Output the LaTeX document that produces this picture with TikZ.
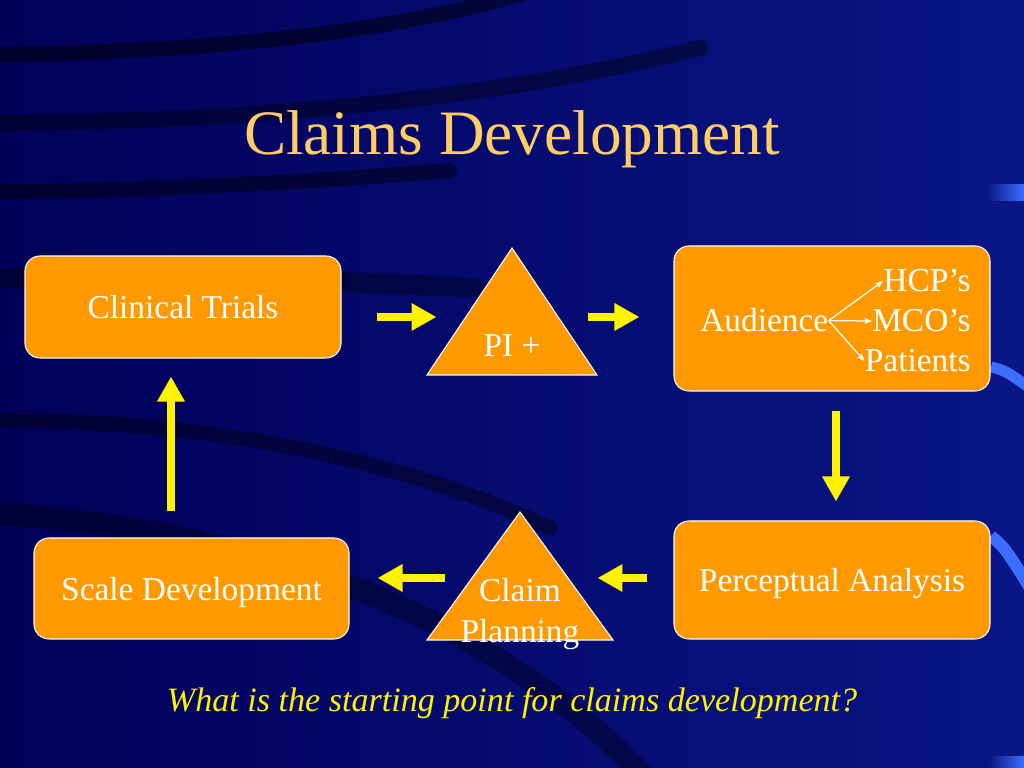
\documentclass[tikz,border=0pt]{standalone}
\usepackage{fontspec}
\setmainfont{Liberation Serif}
\usetikzlibrary{arrows.meta,positioning}

\definecolor{navyL}{RGB}{0,0,88}
\definecolor{navyR}{RGB}{10,22,135}
\definecolor{boxorange}{RGB}{255,153,0}
\definecolor{titlegold}{RGB}{255,204,102}
\definecolor{edgeblue}{RGB}{60,110,255}

\begin{document}
\begin{tikzpicture}[
  box/.style={draw=white, line width=0.6pt, fill=boxorange, rounded corners=0.3cm,
    minimum width=6.32cm, text=white, text depth=0pt, font=\fontsize{19}{23}\selectfont},
  tri/.style={draw=white, line width=0.6pt, fill=boxorange},
  txt/.style={text=white, inner sep=0pt, font=\fontsize{19}{23}\selectfont},
  flow/.style={draw=yellow, line width=0.17cm, -{Triangle[length=0.5cm,width=0.52cm]}},
  fan/.style={draw=white, line width=0.7pt, -{Stealth[length=0.16cm,width=0.12cm]}},
  stripe/.style={draw=black, line cap=round, opacity=0.5}
]
% background
\shade[left color=navyL, right color=navyR] (0,0) rectangle (20.48,15.36);
\useasboundingbox (0,0) rectangle (20.48,15.36);

% dark stripes
\begin{scope}
\clip (0,0) rectangle (20.48,15.36);
\draw[stripe, line width=0.3cm] (-0.5,14.26) .. controls (4,14.3) and (8,14.7) .. (10.8,15.6);
\draw[stripe, line width=0.32cm, opacity=0.4] (-0.5,12.9) .. controls (5,12.9) and (10,13.4) .. (14,14.4);
\draw[stripe, line width=0.3cm, opacity=0.45] (-0.5,11.52) .. controls (3,11.55) and (6,11.7) .. (9,11.95);
\draw[stripe, line width=0.4cm, opacity=0.35] (-0.5,9.8) .. controls (4,9.8) and (7,9.75) .. (9.5,9.6);
\draw[stripe, line width=0.3cm, opacity=0.4] (-0.5,6.96) .. controls (4,7.0) and (8,6.2) .. (11,4.8);
\draw[stripe, line width=0.45cm, opacity=0.35] (-0.5,5.1) .. controls (5,4.9) and (10,3) .. (13,-0.3);
% light edge marks
\shade[left color=navyR, right color=edgeblue] (19.74,11.34) rectangle (20.48,11.66);
\draw[edgeblue, line width=0.22cm] (19.82,8.02) .. controls (20.1,7.95) .. (20.6,7.6);
\draw[edgeblue, line width=0.24cm] (19.82,4.64) .. controls (20.1,4.4) .. (20.6,3.6);
\shade[left color=navyR, right color=edgeblue] (19.8,0) rectangle (20.48,0.22);
\end{scope}

% title
\node[text=titlegold, font=\fontsize{36}{43}\selectfont, anchor=base] (title) at (10.24,12.26) {Claims Development};

% boxes
\node[box, minimum height=2.04cm] (trials) at (3.66,9.22) {Clinical Trials};
\node[box, minimum height=2.9cm] (aud) at (16.64,8.99) {};
\node[box, minimum height=2.36cm] (percept) at (16.64,3.76) {Perceptual Analysis};
\node[box, minimum width=6.3cm, minimum height=2.02cm] (scale) at (3.83,3.59) {Scale Development};

% triangles
\coordinate (piTop) at (10.24,10.4);
\filldraw[tri] (piTop) -- ++(-1.7,-2.54) -- ++(3.4,0) -- cycle;
\node[txt] (pi) at (10.24,8.44) {PI +};
\coordinate (planTop) at (10.4,5.12);
\filldraw[tri] (planTop) -- ++(-1.86,-2.56) -- ++(3.72,0) -- cycle;
\node[txt, align=center] (plan) at (10.4,3.08) {Claim\\Planning};

% audience fan
\node[txt, anchor=base west] (audtxt) at (14.0,8.72) {Audience};
\node[txt, anchor=base east] (hcp) at (19.42,9.52) {HCP’s};
\node[txt, anchor=base east] (mco) at (19.42,8.72) {MCO’s};
\node[txt, anchor=base east] (pat) at (19.42,7.92) {Patients};
\draw[fan] (audtxt.east) -- (hcp.west);
\draw[fan] (audtxt.east) -- (mco.west);
\draw[fan] (audtxt.east) -- (pat.west);

% yellow flow arrows
\draw[flow] ([xshift=0.7cm,yshift=-0.2cm]trials.east) -- ++(1.2,0);
\draw[flow] ([xshift=-1.7cm,yshift=0.03cm]aud.west) -- ([xshift=-0.68cm,yshift=0.03cm]aud.west);
\draw[flow] ([xshift=0.08cm,yshift=-0.38cm]aud.south) -- ([xshift=0.08cm,yshift=0.38cm]percept.north);
\draw[flow] ([xshift=-0.52cm,yshift=0.04cm]percept.west) -- ++(-1,0);
\draw[flow] ([xshift=1.9cm,yshift=0.21cm]scale.east) -- ([xshift=0.56cm,yshift=0.21cm]scale.east);
\draw[flow] ([xshift=-0.41cm,yshift=0.52cm]scale.north) -- ([xshift=-0.24cm,yshift=-0.36cm]trials.south);

% question
\node[text=yellow, font=\fontsize{19.4}{23}\selectfont\itshape, anchor=base] (question) at (10.24,1.12) {What is the starting point for claims development?};
\end{tikzpicture}
\end{document}
